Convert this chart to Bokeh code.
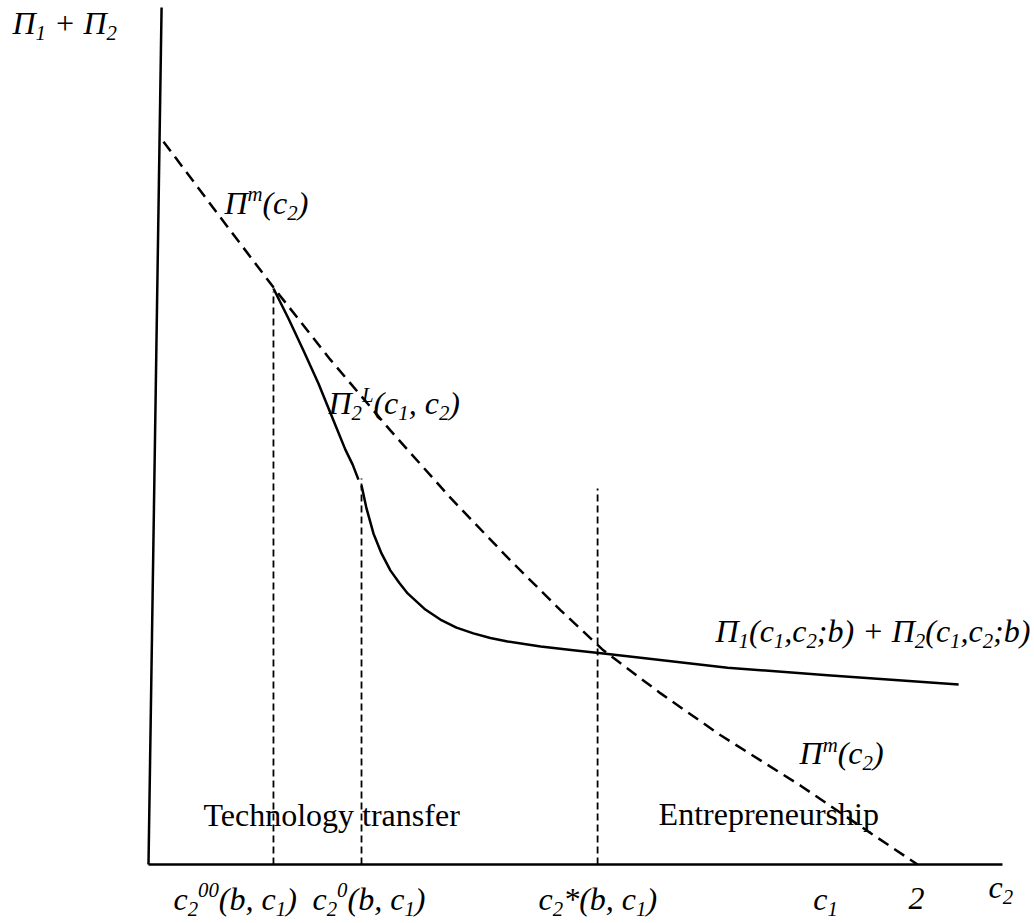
from bokeh.plotting import figure
from bokeh.models import Range1d
from bokeh.embed import file_html
from bokeh.resources import INLINE
from bokeh.core.properties import value

# ---------------- data (chart units: c2 on x, profit on y) ----------------
axis_x_max = 2.221          # end of horizontal axis
axis_y_max = 2.229          # top of vertical axis
axis_y_lean = 0.034         # vertical axis leans slightly right at the top

# Pi^m(c2): dashed monopoly-profit curve
pim_c2 = [0.039, 0.187, 0.325, 0.473, 0.629, 0.785, 0.941, 1.072, 1.183, 1.332, 1.488, 1.696, 1.852, 2.000]
pim_val = [1.880, 1.683, 1.501, 1.313, 1.129, 0.954, 0.791, 0.661, 0.557, 0.445, 0.336, 0.205, 0.099, 0.000]

# Pi2^L(c1, c2): solid segment between c2^00 and c2^0
pi2L_c2 = [0.325, 0.364, 0.403, 0.442, 0.479, 0.512, 0.531, 0.546]
pi2L_val = [1.498, 1.420, 1.337, 1.251, 1.160, 1.079, 1.040, 1.001]

# Pi1 + Pi2 (c1, c2; b): solid curve from c2^0 onwards
sum_c2 = [0.554, 0.567, 0.585, 0.606, 0.629, 0.652, 0.674, 0.720, 0.759, 0.801, 0.845, 0.889,
          0.934, 1.020, 1.105, 1.183, 1.280, 1.506, 1.766, 2.107]
sum_val = [0.986, 0.926, 0.861, 0.809, 0.765, 0.733, 0.705, 0.663, 0.637, 0.616, 0.601, 0.589,
           0.580, 0.567, 0.557, 0.549, 0.538, 0.512, 0.492, 0.468]

# thresholds c2^00, c2^0, c2* and the height of their dashed guides
thresholds = [0.325, 0.554, 1.168]
threshold_tops = [1.490, 1.004, 0.978]
c1_val = 1.755
c2_max = 2.0

# ---------------- figure ----------------
S = 384.5  # pixels per chart unit (both axes)
W_PX, H_PX = 1034, 923
x0 = -148 / S
y0 = -59 / S
p = figure(width=W_PX, height=H_PX,
           x_range=Range1d(x0, x0 + W_PX / S), y_range=Range1d(y0, y0 + H_PX / S),
           output_backend="svg", toolbar_location=None, min_border=0,
           x_axis_type=None, y_axis_type=None)
p.grid.visible = False
p.outline_line_color = None
p.background_fill_color = "white"

# axes
p.line([0, axis_x_max], [0, 0], line_color="black", line_width=2.5)
p.line([0, axis_y_lean], [0, axis_y_max], line_color="black", line_width=2.5)

# dashed guides
for t, top in zip(thresholds, threshold_tops):
    p.line([t, t], [0, top], line_color="black", line_width=1.8, line_dash="7 4")

# curves
p.line(pim_c2, pim_val, line_color="black", line_width=2.5, line_dash="12 7")
p.line(pi2L_c2, pi2L_val, line_color="black", line_width=2.5)
p.line(sum_c2, sum_val, line_color="black", line_width=2.5, line_join="round")

# ---------------- rich text helper ----------------
CW = {'Π': 0.72, 'c': 0.444, 'b': 0.5, 'm': 0.722, 'L': 0.556, '(': 0.333, ')': 0.333,
      ',': 0.25, ';': 0.333, ' ': 0.25, '+': 0.675, '*': 0.5}
FS = 32
BASE_FIX = 0.37  # renderer draws the baseline a little low; lift by this fraction of the size


def twidth(s, size):
    return sum(CW.get(ch, 0.5) for ch in s) * size


def rich(x, y, pieces, size=FS, style="italic"):
    cx = 0.0
    for txt, kind in pieces:
        if kind == "sub":
            fs, dy = size * 0.65, -0.2 * size
        elif kind == "sup":
            fs, dy = size * 0.65, 0.4 * size
        else:
            fs, dy = size, 0.0
        dy += BASE_FIX * fs
        core = txt.strip(" ")
        lead = len(txt) - len(txt.lstrip(" "))
        if core:
            p.text(x=[x + (cx + lead * 0.25 * fs) / S], y=[y + dy / S], text=[core],
                   text_font=value("Liberation Serif"), text_font_style=style,
                   text_font_size=f"{fs:.1f}px", text_baseline="alphabetic",
                   text_align="left", text_color="black")
        cx += twidth(txt, fs)


N, SUB, SUP = "n", "sub", "sup"

# y-axis label
rich(-136 / S, 830 / S, [("Π", N), ("1", SUB), (" + Π", N), ("2", SUB)])

# curve labels
pim_label = [("Π", N), ("m", SUP), ("(c", N), ("2", SUB), (")", N)]
rich(pim_c2[1] + 4 / S, pim_val[1] + 3 / S, pim_label)
rich(pim_c2[11] - 1 / S, pim_val[11] + 21 / S, pim_label)
rich(pi2L_c2[0] + 55 / S, pi2L_val[0] - 126 / S,
     [("Π", N), ("2", SUB), ("L", SUP), ("(c", N), ("1", SUB), (", c", N), ("2", SUB), (")", N)])
rich(sum_c2[17] - 12 / S, sum_val[17] + 25 / S,
     [("Π", N), ("1", SUB), ("(c", N), ("1", SUB), (",c", N), ("2", SUB), (";b) + Π", N),
      ("2", SUB), ("(c", N), ("1", SUB), (",c", N), ("2", SUB), (";b)", N)])

# region labels
rich(thresholds[0] - 70 / S, 38 / S, [("Technology transfer", N)], style="normal")
rich(thresholds[2] + 61 / S, 39 / S, [("Entrepreneurship", N)], style="normal")

# tick labels along c2
ty = -46 / S
rich(thresholds[0] - 100 / S, ty, [("c", N), ("2", SUB), ("00", SUP), ("(b, c", N), ("1", SUB), (")", N)])
rich(thresholds[1] - 49 / S, ty, [("c", N), ("2", SUB), ("0", SUP), ("(b, c", N), ("1", SUB), (")", N)])
rich(thresholds[2] - 59 / S, ty, [("c", N), ("2", SUB), ("*(b, c", N), ("1", SUB), (")", N)])
rich(c1_val - 10 / S, ty, [("c", N), ("1", SUB)])
rich(c2_max - 9 / S, ty, [("2", N)])
rich(axis_x_max - 14 / S, -34 / S, [("c", N), ("2", SUB)])

open("out.html", "w").write(file_html(p, INLINE))
